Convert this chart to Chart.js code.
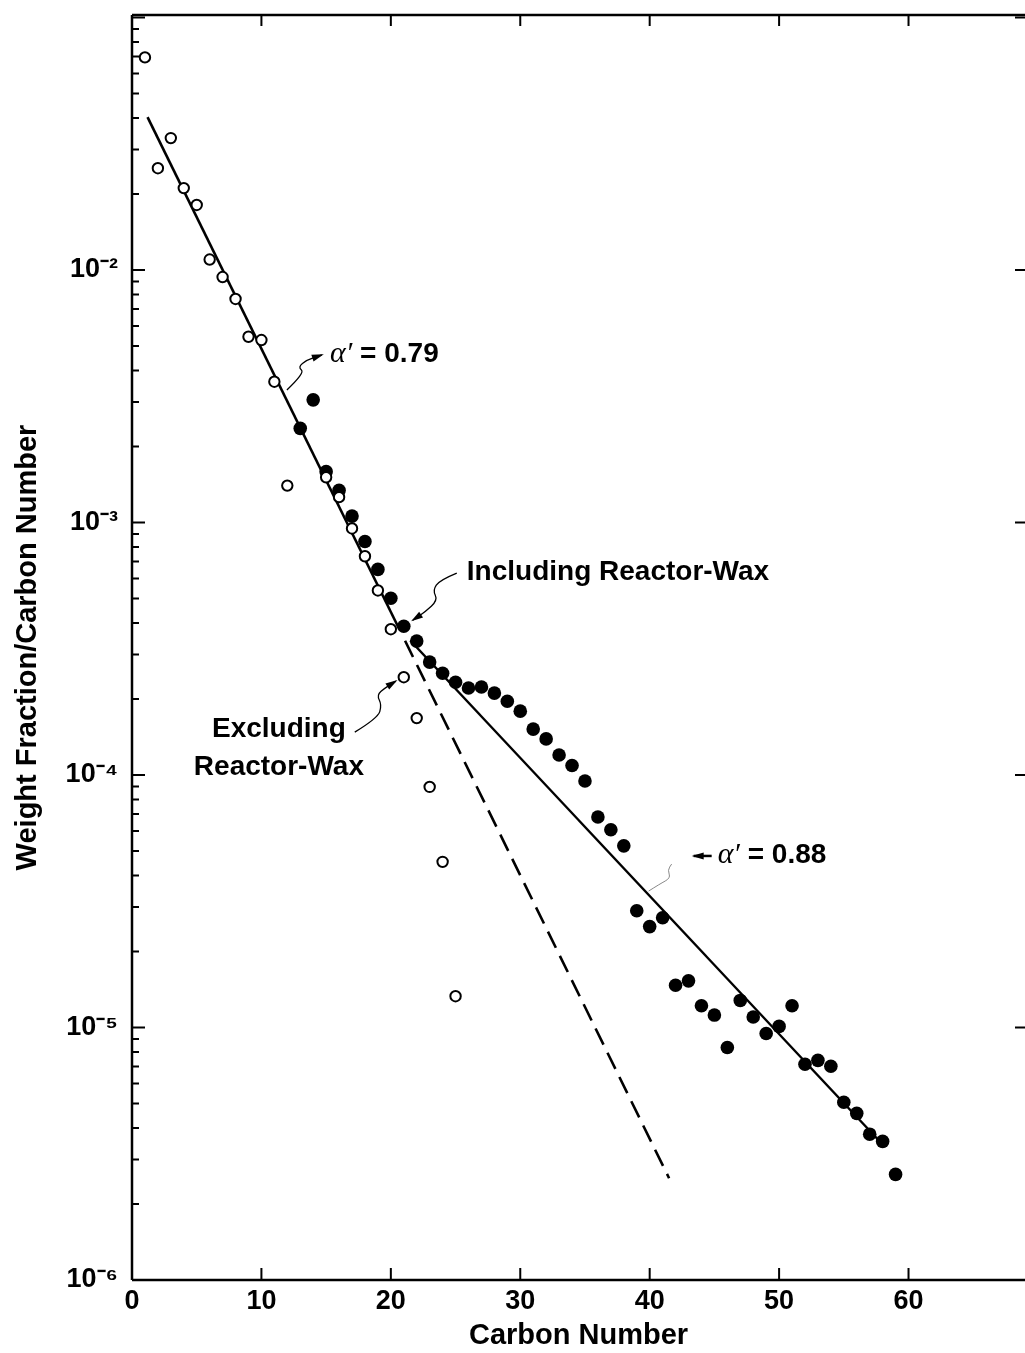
<!DOCTYPE html>
<html><head><meta charset="utf-8">
<script src="https://cdn.jsdelivr.net/npm/chart.js@4.4.0/dist/chart.umd.min.js"></script>
<style>html,body{margin:0;padding:0;background:#fff;overflow:hidden}#wrap{width:1025px;height:1353px;position:relative}canvas{display:block}</style>
</head><body><div id="wrap"><canvas id="c"></canvas></div>
<script>
// ---- data ----
const carbonOpen = [1,2,3,4,5,6,7,8,9,10,11,12,15,16,17,18,19,20,21,22,23,24,25];
const weightOpen = [0.0695,0.0253,0.0333,0.0211,0.0181,0.0110,0.00938,0.00768,0.00544,0.00528,0.00361,0.00140,
  0.00151,0.00126,0.000947,0.000735,0.000538,0.000378,0.000244,0.000168,0.0000897,0.0000453,0.0000133];
const carbonFilled = [13,14,15,16,17,18,19,20,21,22,23,24,25,26,27,28,29,30,31,32,33,34,35,36,
  37,38,39,40,41,42,43,44,45,46,47,48,49,50,51,52,53,54,55,56,57,58,59];
const weightFilled = [0.00236,0.00306,0.00159,0.00134,0.00106,0.000841,0.000652,0.000501,0.000388,0.000339,
  0.000280,0.000253,0.000233,0.000221,0.000223,0.000211,0.000196,0.000179,0.000152,0.000139,0.000120,0.000109,
  0.0000947,0.0000682,0.0000607,0.0000524,0.0000290,0.0000251,0.0000272,0.0000147,0.0000153,0.0000122,0.0000112,
  0.00000833,0.0000128,0.0000110,0.00000947,0.0000101,0.0000122,0.00000715,0.00000741,0.00000702,0.00000506,
  0.00000457,0.00000378,0.00000354,0.00000262];
const fit079Carbon = [1.2, 20.6];
const fit079Weight = [0.0403, 0.000383];
const fit079ExtCarbon = [21.1, 41.5];
const fit079ExtWeight = [0.000340, 0.00000253];
const fit088Carbon = [21.5, 58];
const fit088Weight = [0.000341, 0.00000344];
const xTicks = [0,10,20,30,40,50,60];
const yTicks = [1e-6,1e-5,1e-4,1e-3,1e-2];
const yTickLabels = ['10\u207B\u2076','10\u207B\u2075','10\u207B\u2074','10\u207B\u00B3','10\u207B\u00B2'];
const xTitle = 'Carbon Number';
const yTitle = 'Weight Fraction/Carbon Number';

// ---- annotation layout ----
const SANS = '"Liberation Sans", Arial, Helvetica, sans-serif';
const BOLD28 = 'bold 28px ' + SANS;
const ITAL = 'italic 30px "Liberation Serif", "Times New Roman", serif';
const labelTexts = [
  {c:15.3, v:4.65e-3, align:'left', runs:[['\u03B1\u2032', ITAL],[' = 0.79', BOLD28]]},
  {c:25.87, v:6.37e-4, align:'left', runs:[['Including Reactor-Wax', BOLD28]]},
  {c:11.35, v:1.52e-4, align:'center', runs:[['Excluding', BOLD28]]},
  {c:11.35, v:1.076e-4, align:'center', runs:[['Reactor-Wax', BOLD28]]},
  {c:45.25, v:4.82e-5, align:'left', runs:[['\u03B1\u2032', ITAL],[' = 0.88', BOLD28]]}
];
const pointers = [
  {c:11.97, v:3.35e-3, pts:[[0,0],[18,-17],[11,-23],[20,-30],[35,-35]], head:true, color:'#000', w:1.3},
  {c:21.0, v:3.85e-4, pts:[[53,-54],[36,-47],[29,-37],[34,-27],[21,-15],[9,-7]], head:true, color:'#000', w:1.3},
  {c:21.0, v:2.42e-4, pts:[[-49,54],[-26,40],[-22,27],[-27,17],[-19,10],[-8,3]], head:true, color:'#000', w:1.3},
  {c:39.92, v:3.47e-5, pts:[[0,0],[11,-7],[22,-13],[19,-21],[23,-27]], head:false, color:'#888', w:1},
  {c:44.79, v:4.78e-5, pts:[[0,0],[-18,0]], head:true, color:'#000', w:2.5}
];

const toXY = (xs, ys) => xs.map((x,i)=>({x:x, y:ys[i]}));
const noPad = s => { s.paddingTop = 0; s.paddingBottom = 0; s.paddingLeft = 0; s.paddingRight = 0; };

const framePlugin = {
  id:'frame',
  beforeDatasetsDraw(chart){
    const {ctx, chartArea:a, scales:{x,y}} = chart;
    ctx.save();
    ctx.strokeStyle = '#000';
    ctx.lineCap = 'butt';
    ctx.lineWidth = 2.5;
    ctx.beginPath();
    ctx.moveTo(a.left, a.top); ctx.lineTo(a.right, a.top);
    ctx.moveTo(a.left, a.top); ctx.lineTo(a.left, a.bottom);
    ctx.moveTo(a.left, a.bottom); ctx.lineTo(a.right, a.bottom);
    ctx.stroke();
    ctx.lineWidth = 2;
    ctx.beginPath();
    xTicks.forEach(v=>{
      if (v === x.min) return;
      const p = x.getPixelForValue(v);
      ctx.moveTo(p, a.bottom); ctx.lineTo(p, a.bottom - 12);
      ctx.moveTo(p, a.top); ctx.lineTo(p, a.top + 11);
    });
    ctx.stroke();
    ctx.beginPath();
    const lo = Math.floor(Math.log10(y.min)), hi = Math.ceil(Math.log10(y.max));
    for (let d = lo; d <= hi; d++) {
      for (let k = 1; k <= 9; k++) {
        const v = k * Math.pow(10, d);
        if (v < y.min * 0.999 || v > y.max * 1.001) continue;
        const p = y.getPixelForValue(v);
        const len = k === 1 ? 13 : 7;
        ctx.moveTo(a.left, p); ctx.lineTo(a.left + len, p);
        if (k === 1) { ctx.moveTo(a.right, p); ctx.lineTo(a.right - 10, p); }
      }
    }
    ctx.stroke();
    ctx.restore();
  },
  afterDatasetsDraw(chart){
    const {ctx, scales:{x,y}} = chart;
    ctx.save();
    ctx.fillStyle = '#000';
    ctx.textBaseline = 'middle';
    labelTexts.forEach(l=>{
      let px = x.getPixelForValue(l.c), py = y.getPixelForValue(l.v);
      let total = 0;
      l.runs.forEach(r=>{ ctx.font = r[1]; total += ctx.measureText(r[0]).width; });
      if (l.align === 'center') px -= total/2;
      ctx.textAlign = 'left';
      l.runs.forEach(r=>{ ctx.font = r[1]; ctx.fillText(r[0], px, py); px += ctx.measureText(r[0]).width; });
    });
    pointers.forEach(pt=>{
      const ox = x.getPixelForValue(pt.c), oy = y.getPixelForValue(pt.v);
      const P = pt.pts.map(q=>[ox+q[0], oy+q[1]]);
      ctx.strokeStyle = pt.color; ctx.fillStyle = pt.color; ctx.lineWidth = pt.w;
      ctx.beginPath();
      ctx.moveTo(P[0][0], P[0][1]);
      for (let i = 1; i < P.length - 1; i++) {
        const mx = (P[i][0]+P[i+1][0])/2, my = (P[i][1]+P[i+1][1])/2;
        ctx.quadraticCurveTo(P[i][0], P[i][1], mx, my);
      }
      const e = P[P.length-1], b = P[P.length-2];
      ctx.lineTo(e[0], e[1]);
      ctx.stroke();
      if (pt.head) {
        const ang = Math.atan2(e[1]-b[1], e[0]-b[0]);
        const L = 10, W = 3.5;
        ctx.beginPath();
        ctx.moveTo(e[0]+Math.cos(ang)*2, e[1]+Math.sin(ang)*2);
        ctx.lineTo(e[0]-Math.cos(ang)*L - Math.sin(ang)*W, e[1]-Math.sin(ang)*L + Math.cos(ang)*W);
        ctx.lineTo(e[0]-Math.cos(ang)*L + Math.sin(ang)*W, e[1]-Math.sin(ang)*L - Math.cos(ang)*W);
        ctx.closePath(); ctx.fill();
      }
    });
    ctx.restore();
  }
};

new Chart(document.getElementById('c'), {
  type:'scatter',
  data:{ datasets:[
    {label:'Excluding Reactor-Wax', data:toXY(carbonOpen, weightOpen), pointRadius:5.2, pointBorderWidth:2,
      pointBackgroundColor:'#fff', pointBorderColor:'#000', showLine:false},
    {label:'Including Reactor-Wax', data:toXY(carbonFilled, weightFilled), pointRadius:6.8, pointBorderWidth:0,
      pointBackgroundColor:'#000', pointBorderColor:'#000', showLine:false},
    {label:'fit 0.79', data:toXY(fit079Carbon, fit079Weight), showLine:true, pointRadius:0, borderColor:'#000', borderWidth:2.6, fill:false},
    {label:'fit 0.79 ext', data:toXY(fit079ExtCarbon, fit079ExtWeight), showLine:true, pointRadius:0, borderColor:'#000', borderWidth:2.6, borderDash:[18,9], fill:false},
    {label:'fit 0.88', data:toXY(fit088Carbon, fit088Weight), showLine:true, pointRadius:0, borderColor:'#000', borderWidth:2.4, fill:false}
  ]},
  options:{
    responsive:true, maintainAspectRatio:false, animation:false, devicePixelRatio:1,
    layout:{autoPadding:false, padding:{top:15, right:0, left:0, bottom:0}},
    plugins:{legend:{display:false}, tooltip:{enabled:false}},
    scales:{
      x:{type:'linear', min:0, max:69,
        afterBuildTicks:s=>{ s.ticks = xTicks.map(v=>({value:v})); },
        afterFit:s=>{ s.height = 73; noPad(s); },
        grid:{display:false, drawTicks:false}, border:{display:false},
        ticks:{font:{family:SANS, weight:'bold', size:27}, color:'#000', padding:5, maxRotation:0, autoSkip:false},
        title:{display:true, text:xTitle, font:{family:SANS, weight:'bold', size:29}, color:'#000', padding:{top:0, bottom:0}}
      },
      y:{type:'logarithmic', min:1e-6, max:0.1023,
        afterBuildTicks:s=>{ s.ticks = yTicks.map(v=>({value:v})); },
        afterFit:s=>{ s.width = 132; noPad(s); },
        grid:{display:false, drawTicks:false}, border:{display:false},
        ticks:{font:{family:SANS, weight:'bold', size:27}, color:'#000', padding:14, autoSkip:false,
          callback:(v)=>{ const i = yTicks.findIndex(t=>Math.abs(Math.log10(t)-Math.log10(v))<1e-6); return i>=0 ? yTickLabels[i] : ''; }},
        title:{display:true, text:yTitle, font:{family:SANS, weight:'bold', size:29}, color:'#000', padding:{top:11, bottom:0}}
      }
    }
  },
  plugins:[framePlugin]
});
</script></body></html>
